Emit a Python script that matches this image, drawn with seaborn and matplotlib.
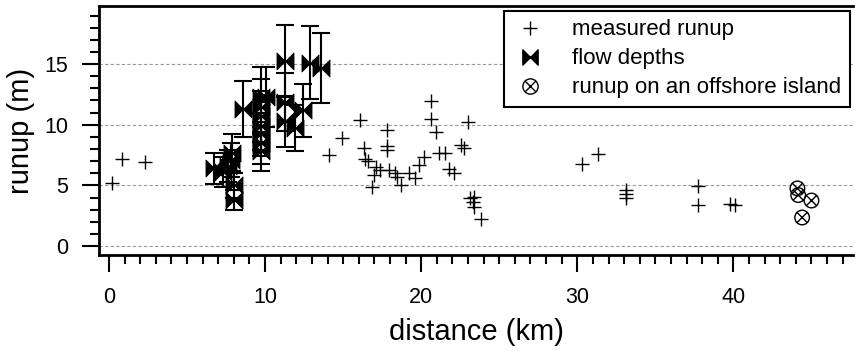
import seaborn as sns
import matplotlib.pyplot as plt
import numpy as np
from matplotlib.path import Path
from matplotlib.lines import Line2D
from matplotlib.ticker import MultipleLocator

# measured runup (+)
runup_x = [0.2, 0.85, 2.3, 14.1, 14.9, 16.1, 16.35, 16.4, 16.6, 17.1, 17.0, 16.85,
           17.35, 17.8, 17.8, 17.8, 17.95, 18.3, 18.45, 18.7, 19.2, 19.6, 19.85,
           20.2, 20.65, 20.65, 20.95, 21.15, 21.5, 21.75, 22.1, 22.55, 22.75,
           23.0, 23.1, 23.35, 23.3, 23.35, 23.8, 30.3, 31.3, 33.1, 33.1, 33.1,
           37.7, 37.7, 39.8, 40.1]
runup_y = [5.2, 7.2, 6.9, 7.5, 8.9, 10.4, 8.05, 7.2, 7.0, 6.55, 5.85, 4.9,
           6.25, 9.6, 8.25, 7.9, 6.25, 6.0, 5.7, 5.05, 6.0, 5.6, 6.7,
           7.35, 11.95, 10.45, 9.4, 7.65, 7.7, 6.35, 6.0, 8.3, 8.1,
           10.2, 4.0, 4.05, 3.65, 3.25, 2.2, 6.75, 7.6, 4.6, 4.3, 4.0,
           4.95, 3.35, 3.45, 3.4]

# flow depths with error bars
flow_x = [6.7, 7.3, 7.6, 7.8, 7.9, 8.0, 8.0, 8.6, 9.75, 9.75, 9.75, 9.75, 9.75,
          9.75, 9.75, 10.05, 11.3, 11.3, 11.3, 11.9, 12.45, 12.9, 13.6]
flow_y = [6.4, 6.1, 6.6, 7.1, 7.7, 5.0, 3.8, 11.3, 12.3, 11.5, 10.7, 9.9, 9.2,
          8.5, 7.8, 12.3, 15.25, 11.9, 10.3, 9.7, 11.2, 15.1, 14.7]
flow_err = [1.3, 1.2, 1.3, 1.4, 1.5, 1.0, 0.8, 2.3, 2.5, 2.3, 2.1, 2.0, 1.8,
            1.7, 1.6, 2.5, 3.0, 2.4, 2.1, 1.9, 2.2, 3.0, 2.9]

# runup on an offshore island
island_x = [44.1, 44.15, 45.0, 44.4]
island_y = [4.75, 4.2, 3.75, 2.35]

labels = ["measured runup", "flow depths", "runup on an offshore island"]

sns.set_style("ticks")
plt.rcParams['font.family'] = ['Liberation Sans', 'DejaVu Sans']
plt.rcParams['text.color'] = 'black'
plt.rcParams['axes.labelcolor'] = 'black'
plt.rcParams['xtick.color'] = 'black'
plt.rcParams['ytick.color'] = 'black'

# custom markers
bowtie = Path([(-1, -1), (-1, 1), (1, -1), (1, 1), (-1, -1)],
              [Path.MOVETO, Path.LINETO, Path.LINETO, Path.LINETO, Path.CLOSEPOLY])
c = 0.7071
xl = Path([(-c, -c), (c, c), (-c, c), (c, -c)],
          [Path.MOVETO, Path.LINETO, Path.MOVETO, Path.LINETO])
circlex = Path.make_compound_path(Path.unit_circle(), xl)

fig = plt.figure(figsize=(8.55, 3.51), dpi=100)
ax = fig.add_axes([99/855, 1-255/351, 754/855, 249/351])

ax.errorbar(flow_x, flow_y, yerr=flow_err, fmt='none', ecolor='black',
            elinewidth=1.5, capsize=6.5, capthick=1.5, zorder=2)
sns.scatterplot(x=flow_x, y=flow_y, marker=bowtie, s=150, color='black',
                edgecolor='black', linewidth=0.6, ax=ax, zorder=3)
sns.scatterplot(x=runup_x, y=runup_y, marker='+', s=100, color='black',
                linewidth=1.0, ax=ax, zorder=3)
ax.scatter(island_x, island_y, marker=circlex, s=110, facecolors='none',
           edgecolors='black', linewidths=1.0, zorder=3)

ax.set_xlim(-0.64, 47.66)
ax.set_ylim(-0.74, 19.79)
ax.xaxis.set_major_locator(MultipleLocator(10))
ax.xaxis.set_minor_locator(MultipleLocator(1))
ax.yaxis.set_major_locator(MultipleLocator(5))
ax.yaxis.set_minor_locator(MultipleLocator(1))
ax.tick_params(which='major', direction='out', length=12, width=1.5,
               labelsize=15.5, pad=10, color='black', labelcolor='black')
ax.tick_params(which='minor', direction='out', length=6.5, width=1.5, color='black')
ax.tick_params(axis='x', which='major', pad=11)

ax.set_axisbelow(True)
ax.yaxis.grid(True, which='major', linestyle=(0, (3, 2)), color='#999999',
              linewidth=0.8)

for s in ['left', 'bottom', 'top']:
    ax.spines[s].set_linewidth(2)
    ax.spines[s].set_color('black')
ax.spines['right'].set_visible(False)

ax.set_xlabel("distance (km)", fontsize=21, labelpad=7)
ax.set_ylabel("runup (m)", fontsize=21, labelpad=7)

handles = [
    Line2D([], [], linestyle='none', marker='+', markersize=10,
           markeredgewidth=1.0, color='black'),
    Line2D([], [], linestyle='none', marker=bowtie, markersize=11,
           color='black'),
    Line2D([], [], linestyle='none', marker=circlex, markersize=11,
           markerfacecolor='none', markeredgecolor='black', markeredgewidth=1.0),
]
leg = ax.legend(handles, labels, loc='upper right', fontsize=16,
                bbox_to_anchor=(850/855, 1-11/351), bbox_transform=fig.transFigure,
                borderaxespad=0, fancybox=False, framealpha=1, edgecolor='black',
                handlelength=1.6, handletextpad=1.1, labelspacing=0.36,
                borderpad=0.38)
leg.get_frame().set_linewidth(1.5)

fig.savefig("out.png", dpi=100)
